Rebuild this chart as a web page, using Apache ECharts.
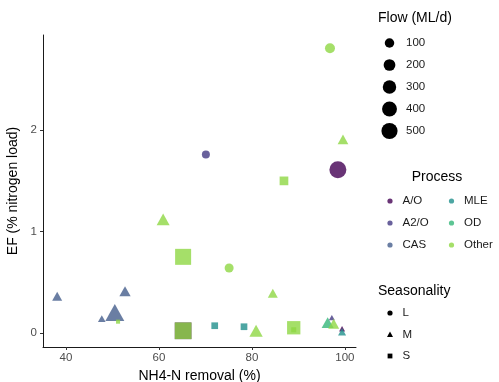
<!DOCTYPE html>
<html><head><meta charset="utf-8">
<script src="https://cdn.jsdelivr.net/npm/echarts@6/dist/echarts.min.js"></script>
<style>html,body{margin:0;padding:0;background:#fff}#c{width:499px;height:382px}</style>
</head><body><div id="c"></div>
<script>
// Data
const removal = [96.8, 99.6, 98.5, 70.1, 86.9, 60.9, 65.2, 75.1, 38.1, 52.7, 84.5, 50.5, 47.7, 51.2, 65.2, 65.2, 72.0, 78.3, 80.9, 89.0, 89.0, 96.3, 97.2, 97.6, 99.4, 99.4];
const ef      = [2.81, 1.91, 1.61, 1.76, 1.50, 1.12, 0.75, 0.64, 0.36, 0.41, 0.39, 0.20, 0.14, 0.11, 0.02, 0.02, 0.07, 0.06, 0.02, 0.05, 0.03, 0.10, 0.15, 0.09, 0.04, 0.01];
const flow    = [145, 100, 625, 69, 93, 183, 536, 104, 80, 120, 80, 520, 29, 1, 597, 597, 35, 35, 198, 330, 8, 145, 8, 110, 8, 35];
const process = ['Other','Other','A/O','A2/O','Other','Other','Other','Other','CAS','CAS','Other','CAS','CAS','Other','A/O','Other','MLE','MLE','Other','Other','Other','OD','A2/O','Other','A/O','MLE'];
const season  = ['L','M','L','L','S','M','S','L','M','M','M','M','M','S','S','S','S','S','M','S','S','M','M','M','M','M'];

const processLevels = ['A/O','A2/O','CAS','MLE','OD','Other'];
const processColors = ['#440154','#443A83','#455E8C','#21908C','#35B779','#8FD744'];
const seasonLevels = ['L','M','S'];
const flowBreaks = [100, 200, 300, 400, 500];
const xTicks = [40, 60, 80, 100];
const yTicks = [0, 1, 2];

const shapeMap = {L: 'circle', M: 'triangle', S: 'rect'};
function diam(f) { return 3.5 + 0.54 * Math.sqrt(f); }
function markSize(f, s) {
  if (s === 'M') { const w = diam(f) * 1.2; return [w, w * 0.9]; }
  return diam(f);
}
const colorOf = p => processColors[processLevels.indexOf(p)];

const points = removal.map((x, i) => [x, ef[i], flow[i]]);

const chart = echarts.init(document.getElementById('c'), null, {renderer: 'canvas'});
const FONT = 'Liberation Sans, Arial, sans-serif';

// Legend graphics
const g = [];
g.push({type: 'text', left: 378, top: 11, style: {text: 'Flow (ML/d)', font: '14px ' + FONT, fill: '#000'}});
flowBreaks.forEach((b, i) => {
  const cy = 43 + i * 22;
  g.push({type: 'circle', shape: {cx: 389.5, cy: cy, r: diam(b) / 2 + 0.3}, style: {fill: '#000'}});
  g.push({type: 'text', x: 406, y: cy, style: {text: String(b), font: '11.5px ' + FONT, fill: '#1a1a1a', verticalAlign: 'middle'}});
});
g.push({type: 'text', x: 437, y: 177, style: {text: 'Process', font: '14px ' + FONT, fill: '#000', align: 'center', verticalAlign: 'middle'}});
processLevels.forEach((p, i) => {
  const col = Math.floor(i / 3), row = i % 3;
  const cx = col === 0 ? 390 : 451.5;
  const cy = 201 + row * 22;
  g.push({type: 'circle', shape: {cx: cx, cy: cy, r: 2.6}, style: {fill: processColors[i], opacity: 0.8}});
  g.push({type: 'text', x: cx + 12.5, y: cy, style: {text: p, font: '11.5px ' + FONT, fill: '#1a1a1a', verticalAlign: 'middle'}});
});
g.push({type: 'text', x: 378, y: 291, style: {text: 'Seasonality', font: '14px ' + FONT, fill: '#000', verticalAlign: 'middle'}});
seasonLevels.forEach((s, i) => {
  const cy = 313 + i * 21.5;
  const cx = 390;
  if (s === 'L') g.push({type: 'circle', shape: {cx: cx, cy: cy, r: 2.6}, style: {fill: '#000'}});
  else if (s === 'M') g.push({type: 'polygon', shape: {points: [[cx - 3, cy + 2.5], [cx + 3, cy + 2.5], [cx, cy - 3]]}, style: {fill: '#000'}});
  else g.push({type: 'rect', shape: {x: cx - 2.4, y: cy - 2.4, width: 4.8, height: 4.8}, style: {fill: '#000'}});
  g.push({type: 'text', x: cx + 12.5, y: cy, style: {text: s, font: '11.5px ' + FONT, fill: '#1a1a1a', verticalAlign: 'middle'}});
});

chart.setOption({
  animation: false,
  backgroundColor: '#fff',
  textStyle: {fontFamily: FONT},
  grid: {left: 43, right: 143, top: 35, bottom: 35, containLabel: false, outerBoundsMode: 'none'},
  xAxis: {
    type: 'value', min: 35.05, max: 102.4,
    name: 'NH4-N removal (%)', nameLocation: 'middle', nameGap: 21,
    nameTextStyle: {fontSize: 14, color: '#000', fontFamily: FONT},
    axisLine: {show: true, onZero: false, lineStyle: {color: '#1a1a1a', width: 1}},
    axisTick: {show: true, length: 3, lineStyle: {color: '#333'}, customValues: xTicks},
    axisLabel: {fontSize: 11.5, color: '#4d4d4d', margin: 5, customValues: xTicks, fontFamily: FONT},
    splitLine: {show: false}
  },
  yAxis: {
    type: 'value', min: -0.14, max: 2.94,
    name: 'EF (% nitrogen load)', nameLocation: 'middle', nameGap: 15,
    nameTextStyle: {fontSize: 14, color: '#000', fontFamily: FONT},
    axisLine: {show: true, onZero: false, lineStyle: {color: '#1a1a1a', width: 1}},
    axisTick: {show: true, length: 3, lineStyle: {color: '#333'}, customValues: yTicks},
    axisLabel: {fontSize: 11.5, color: '#4d4d4d', margin: 6, customValues: yTicks, fontFamily: FONT},
    splitLine: {show: false}
  },
  series: [{
    type: 'scatter',
    data: points,
    symbol: (v, p) => shapeMap[season[p.dataIndex]],
    symbolSize: (v, p) => markSize(flow[p.dataIndex], season[p.dataIndex]),
    itemStyle: {
      color: p => colorOf(process[p.dataIndex]),
      opacity: 0.8
    },
    emphasis: {disabled: true}
  }],
  graphic: g
});
</script>
</body></html>
